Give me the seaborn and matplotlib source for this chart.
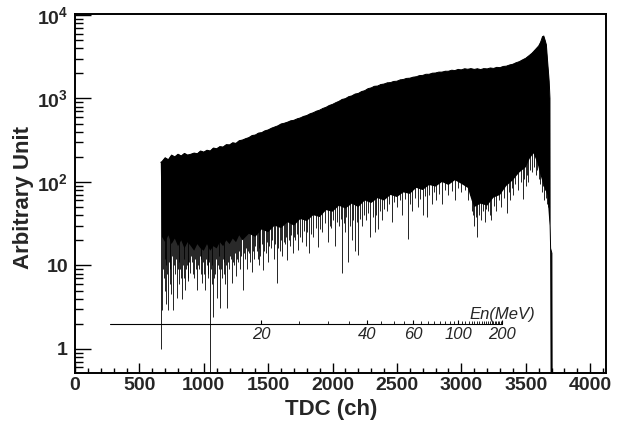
import numpy as np
import matplotlib
matplotlib.use("Agg")
import matplotlib.pyplot as plt
from matplotlib.ticker import FixedLocator, MultipleLocator, NullFormatter, LogLocator
import seaborn as sns

# upper edge of the histogram band (TDC channel, counts)
edge_ch = [666, 675, 700, 725, 750, 775, 800, 825, 850, 875, 900, 925, 950, 975,
           1000, 1025, 1050, 1075, 1100, 1125, 1150, 1175, 1200, 1225, 1250, 1275,
           1300, 1325, 1350, 1375, 1400, 1425, 1450, 1475, 1500, 1525, 1550, 1575,
           1600, 1625, 1650, 1675, 1700, 1725, 1750, 1775, 1800, 1825, 1850, 1875,
           1900, 1925, 1950, 1975, 2000, 2025, 2050, 2075, 2100, 2125, 2150, 2175,
           2200, 2225, 2250, 2275, 2300, 2325, 2350, 2375, 2400, 2425, 2450, 2475,
           2500, 2525, 2550, 2575, 2600, 2625, 2650, 2675, 2700, 2725, 2750, 2775,
           2800, 2825, 2850, 2875, 2900, 2925, 2950, 2975, 3000, 3025, 3050, 3075,
           3100, 3125, 3150, 3175, 3200, 3225, 3250, 3275, 3300, 3325, 3350, 3375,
           3400, 3425, 3450, 3475, 3500, 3525, 3550, 3575, 3600, 3615, 3630, 3640,
           3650, 3660, 3668, 3682, 3688, 3689, 3693, 3703, 3705]
edge_cnt = [172, 175, 195, 185, 210, 200, 215, 205, 220, 210, 215, 222, 218, 235,
            228, 240, 235, 255, 250, 265, 262, 280, 278, 295, 290, 312,
            318, 330, 340, 360, 365, 385, 390, 410, 420, 440, 455, 470,
            495, 505, 520, 540, 548, 570, 585, 610, 625, 655, 675, 705,
            725, 760, 785, 825, 850, 890, 925, 975, 995, 1050, 1075, 1130,
            1150, 1210, 1240, 1310, 1340, 1400, 1410, 1470, 1490, 1540, 1550, 1600,
            1610, 1670, 1690, 1740, 1750, 1800, 1820, 1880, 1890, 1950, 1950, 2010,
            2020, 2070, 2070, 2120, 2120, 2180, 2160, 2230, 2200, 2270, 2240, 2280,
            2230, 2270, 2220, 2280, 2260, 2320, 2290, 2360, 2340, 2420, 2440, 2520,
            2570, 2680, 2760, 2900, 3030, 3250, 3500, 3850, 4250, 4700, 5500, 5600,
            5000, 4400, 3000, 1600, 1000, 30, 16, 14, 0.3]

# bottom of the solid part of the band (TDC channel, counts)
floor_ch = [666, 675, 700, 725, 750, 775, 800, 825, 850, 875, 900, 925, 950, 975,
            1000, 1025, 1050, 1075, 1100, 1125, 1150, 1175, 1200, 1225, 1250, 1275,
            1300, 1350, 1400, 1450, 1500, 1550, 1600, 1650, 1700, 1750, 1800, 1850,
            1900, 1950, 2000, 2050, 2100, 2150, 2200, 2250, 2300, 2350, 2400, 2450,
            2500, 2550, 2600, 2650, 2700, 2750, 2800, 2850, 2900, 2950, 3000, 3050,
            3080, 3100, 3150, 3200, 3250, 3300, 3350, 3400, 3450, 3500, 3530, 3560,
            3590, 3615, 3640, 3668, 3682, 3688, 3689, 3693, 3705]
floor_cnt = [172, 22, 19, 23, 18, 21, 17, 20, 16, 19, 17, 15, 18, 16,
             15, 18, 15, 17, 16, 19, 17, 20, 18, 21, 19, 23,
             20, 24, 22, 27, 25, 30, 28, 33, 30, 36, 34, 40,
             38, 46, 44, 52, 48, 55, 50, 60, 56, 64, 60, 70,
             66, 75, 72, 85, 80, 92, 88, 100, 92, 105, 95, 85,
             60, 50, 55, 52, 65, 70, 90, 105, 130, 150, 190, 220,
             170, 120, 90, 70, 35, 30, 16, 0.3, 0.3]

# single low bins hanging below the band (channel, counts)
spike_ch = [668, 675, 682, 690, 695, 700, 705, 710, 716, 722, 728, 735, 740, 745,
            752, 761, 768, 775, 783, 792, 798, 805, 810, 815, 822, 831, 838, 845,
            850, 854, 862, 870, 875, 880, 887, 893, 900, 910, 917, 925, 932, 940,
            947, 953, 960, 968, 975, 980, 986, 993, 1000, 1009, 1017, 1025, 1030,
            1035, 1041, 1048, 1054, 1060, 1066, 1071, 1078, 1085, 1092, 1102, 1108,
            1115, 1120, 1126, 1133, 1140, 1147, 1155, 1160, 1168, 1174, 1180, 1188,
            1195, 1203, 1210, 1219, 1227, 1235, 1242, 1250, 1258, 1265, 1272, 1280,
            1290, 1304, 1312, 1320, 1328, 1335, 1342, 1350, 1362, 1374, 1382, 1390,
            1400, 1410, 1418, 1425, 1432, 1440, 1450, 1460, 1470, 1480, 1490, 1500,
            1510, 1520, 1532, 1545, 1556, 1568, 1578, 1590, 1600, 1610, 1620, 1630,
            1638, 1646, 1658, 1670, 1680, 1690, 1700, 1710, 1720, 1731, 1745, 1760,
            1775, 1790, 1803, 1817, 1833, 1850, 1868, 1887, 1903, 1920, 1940, 1964,
            1977, 1990, 2005, 2020, 2035, 2050, 2062, 2073, 2085, 2095, 2108, 2120,
            2135, 2150, 2162, 2175, 2186, 2197, 2212, 2230, 2245, 2260, 2275, 2290,
            2310, 2329, 2340, 2350, 2365, 2380, 2400, 2420, 2440, 2460, 2480, 2500,
            2520, 2540, 2560, 2585, 2600, 2620, 2640, 2660, 2680, 2700, 2715, 2733,
            2750, 2770, 2785, 2800, 2825, 2850, 2875, 2900, 2925, 2950, 2975, 3000,
            3025, 3050, 3065, 3080, 3090, 3100, 3110, 3121, 3135, 3150, 3165, 3183,
            3195, 3210, 3220, 3230, 3250, 3270, 3290, 3310, 3330, 3354, 3370, 3380,
            3392, 3400, 3420, 3440, 3460, 3478, 3490, 3500, 3512, 3520, 3535, 3550,
            3565, 3580, 3590, 3600, 3612, 3626, 3636, 3645, 3652, 3660, 3668, 3675]
spike_cnt = [1.0, 2.9, 9, 7, 12, 5, 10, 3.5, 8, 2.9, 11, 6, 9, 4.5,
             13, 2.9, 10, 8, 12, 4.1, 9, 6, 11, 9, 7, 4.0, 10, 7,
             12, 5.1, 9, 10, 7, 6.5, 11, 8.2, 13, 11, 8, 7, 12, 9,
             5.1, 10, 9, 13, 12, 8, 6.2, 11, 8, 5.1, 12, 10, 8,
             7, 11, 0.3, 9, 6, 10, 2.4, 7, 8, 12, 4.1, 10,
             9, 13, 3.1, 9, 7, 12, 11, 8, 6, 10, 3.1, 11,
             9, 13, 12, 6.2, 11, 10, 14, 7.5, 12, 11, 15, 9,
             13, 5.1, 14, 12, 16, 9, 15, 14, 11, 8.4, 15, 12,
             17, 15, 12, 10, 16, 13, 18, 8.9, 15, 14, 19, 11,
             17, 16, 20, 12, 18, 6.2, 16, 15, 20, 13, 19, 18,
             22, 11.7, 20, 17, 23, 14, 22, 20, 24, 15.4, 22, 19,
             26, 17, 25, 14.1, 24, 22, 28, 16.7, 27, 25, 32, 19,
             30, 28, 35, 17, 33, 30, 36, 8.2, 32, 25, 38, 11,
             30, 20, 35, 15, 33, 13.4, 36, 30, 40, 35, 42, 22,
             38, 25, 40, 27, 45, 35, 48, 45, 55, 33, 58, 50,
             60, 40, 62, 21, 55, 45, 65, 50, 62, 40, 68, 38,
             70, 55, 75, 60, 72, 54, 80, 70, 78, 60, 85, 75,
             80, 60, 70, 45, 40, 30, 38, 22, 40, 35, 45, 33,
             48, 45, 40, 35, 52, 45, 60, 50, 65, 43, 75, 60,
             85, 70, 95, 80, 100, 62, 110, 90, 120, 100, 140, 130,
             150, 120, 140, 110, 95, 76, 90, 60, 80, 65, 55, 50]

x_ticks = [0, 500, 1000, 1500, 2000, 2500, 3000, 3500, 4000]
y_ticks = [1, 10, 100, 1000, 10000]
y_tick_labels = ["1", "10", "$10^{2}$", "$10^{3}$", "$10^{4}$"]

# neutron energy scale drawn inside the frame
en_major = [20, 40, 60, 100, 200]
en_minor = [e for e in range(25, 200, 5) if e not in en_major]
en_range = [10, 200]
en_level = 2


def mev_to_ch(e):
    # time of flight: channel falls linearly with 1/beta
    gamma = 1 + np.asarray(e, dtype=float) / 939.57
    beta = np.sqrt(1 - 1 / gamma ** 2)
    return 4361 - 592.4 / beta


sns.set_theme(style="ticks")
plt.rcParams["font.family"] = ["Liberation Sans", "DejaVu Sans"]
plt.rcParams["mathtext.fontset"] = "custom"
plt.rcParams["mathtext.rm"] = "Liberation Sans:bold"
plt.rcParams["mathtext.bf"] = "Liberation Sans:bold"
plt.rcParams["mathtext.it"] = "Liberation Sans:italic:bold"
plt.rcParams["mathtext.default"] = "rm"

fig, ax = plt.subplots(figsize=(6.17, 4.21), dpi=100)
fig.subplots_adjust(left=75 / 617, right=606 / 617, bottom=1 - 373 / 421, top=1 - 14 / 421)
ax.set_yscale("log")

# solid band: upper edge forward, floor backward
band_x = np.concatenate([edge_ch, floor_ch[::-1]])
band_y = np.concatenate([edge_cnt, floor_cnt[::-1]])
ax.fill(band_x, band_y, color="black", lw=0)
sns.lineplot(x=edge_ch, y=edge_cnt, ax=ax, color="black", lw=0.7, estimator=None, sort=False)

# low bins: lines clipped to the area under the upper edge
under_x = np.concatenate([edge_ch, [edge_ch[-1], edge_ch[0]]])
under_y = np.concatenate([edge_cnt, [0.01, 0.01]])
under = ax.fill(under_x, under_y, color="none", lw=0)[0]
spikes = ax.vlines(spike_ch, spike_cnt, 1e5, colors="black", lw=0.6)
spikes.set_clip_path(under)

# energy axis
ax.plot(mev_to_ch(en_range), [en_level, en_level], color="black", lw=0.8)
ax.plot(mev_to_ch(en_major), [en_level] * len(en_major), ls="none", marker=2,
        ms=3.2, mew=0.8, color="black")
ax.plot(mev_to_ch(en_minor), [en_level] * len(en_minor), ls="none", marker=2,
        ms=2.0, mew=0.6, color="black")
for e in en_major:
    ax.text(mev_to_ch(e), 1.85, str(e), ha="center", va="top", style="italic",
            fontweight="normal", fontsize=12)
ax.text(mev_to_ch(200), 2.12, "En(MeV)", ha="center", va="bottom", style="italic",
        fontweight="normal", fontsize=12)

ax.set_xlim(0, 4123)
ax.set_ylim(0.515, 1.028e4)
ax.xaxis.set_major_locator(FixedLocator(x_ticks))
ax.xaxis.set_minor_locator(MultipleLocator(100))
ax.set_xticklabels([str(t) for t in x_ticks], fontweight="bold", fontsize=14)
ax.yaxis.set_major_locator(FixedLocator(y_ticks))
ax.yaxis.set_minor_locator(LogLocator(base=10, subs=np.arange(2, 10)))
ax.yaxis.set_minor_formatter(NullFormatter())
ax.set_yticklabels(y_tick_labels, fontweight="bold", fontsize=14)

ax.tick_params(axis="x", which="major", direction="in", length=7.2, width=1.0, pad=3,
               top=False, color="black")
ax.tick_params(axis="x", which="minor", direction="in", length=3.6, width=1.0,
               top=False, color="black")
ax.tick_params(axis="y", which="major", direction="in", length=11.5, width=1.0, pad=5,
               right=False, color="black")
ax.tick_params(axis="y", which="minor", direction="in", length=5.8, width=1.0,
               right=False, color="black")
for sp in ax.spines.values():
    sp.set_visible(True)
    sp.set_linewidth(1.4)
    sp.set_color("black")

ax.set_xlabel("TDC (ch)", fontweight="bold", fontsize=16)
ax.set_ylabel("Arbitrary Unit", fontweight="bold", fontsize=16)
ax.xaxis.set_label_coords(0.482, -0.072)
ax.yaxis.set_label_coords(-0.078, 0.49)

fig.savefig("out.png", dpi=100, facecolor="white")
